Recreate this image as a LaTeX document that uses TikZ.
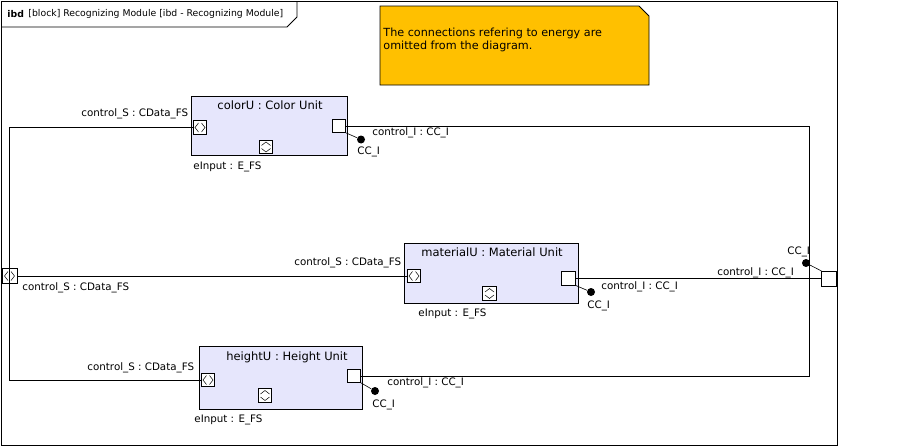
\documentclass[tikz,border=0pt]{standalone}
\usepackage{fontspec}
\setmainfont{DejaVu Sans}
\usetikzlibrary{positioning}
\definecolor{blockfill}{RGB}{230,230,252}
\definecolor{notefill}{RGB}{255,192,0}

\begin{document}
\begin{tikzpicture}[line width=0.9pt,
  lbl/.style={inner sep=0pt, anchor=west, font=\fontsize{10.3}{12}\selectfont},
  ttl/.style={inner sep=0pt, font=\fontsize{11.5}{13}\selectfont},
  block/.style={draw, fill=blockfill, inner sep=0pt, outer sep=0pt, anchor=north west},
  port/.style={draw, fill=white, inner sep=0pt, outer sep=0pt, minimum size=13.5pt},
  flowh/.style={port, path picture={\draw[line width=0.5pt, shift={(path picture bounding box.center)}] (-1.5pt,4.5pt) -- (-5pt,0pt) -- (-1.5pt,-4.5pt) (1.5pt,4.5pt) -- (5pt,0pt) -- (1.5pt,-4.5pt);}},
  flowv/.style={port, path picture={\draw[line width=0.5pt, shift={(path picture bounding box.center)}] (4.5pt,1.5pt) -- (0pt,5pt) -- (-4.5pt,1.5pt) (4.5pt,-1.5pt) -- (0pt,-5pt) -- (-4.5pt,-1.5pt);}},
  ball/.style={circle, fill=black, minimum size=8pt, inner sep=0pt},
]
\useasboundingbox (0,0) rectangle (915pt,-447pt);
\draw (1pt,-1pt) rectangle (837pt,-445pt);
\draw (1pt,-27pt) -- (287pt,-27pt) -- (297pt,-17pt) -- (297pt,-1pt);
\node[inner sep=0pt, anchor=west, font=\fontsize{9.3}{11}\bfseries] (ibd) at (7pt,-14pt) {ibd};
\node[inner sep=0pt, anchor=west, font=\fontsize{9.3}{11}\selectfont] (frameName) at (28pt,-14pt) {[block] Recognizing Module [ibd - Recognizing Module]};

\draw[fill=notefill] (380pt,-6pt) -- (639pt,-6pt) -- (649pt,-16pt) -- (649pt,-85pt) -- (380pt,-85pt) -- cycle;
\node[inner sep=0pt, anchor=north west, align=left, font=\fontsize{11.2}{12.5}\selectfont] (noteText) at (383pt,-28pt) {The connections refering to energy are\\omitted from the diagram.};

\node[block, minimum width=156pt, minimum height=59pt] (colorU) at (191pt,-96pt) {};
\node[block, minimum width=174pt, minimum height=60pt] (materialU) at (404pt,-243pt) {};
\node[block, minimum width=163pt, minimum height=63pt] (heightU) at (199pt,-346pt) {};
\node[ttl] at (270pt,-105pt) {colorU : Color Unit};
\node[ttl] at (492pt,-252pt) {materialU : Material Unit};
\node[ttl] at (287pt,-357pt) {heightU : Height Unit};

\node[flowh] (colorS) at (200pt,-127.5pt) {};
\node[flowv] (colorE) at (266pt,-147pt) {};
\node[port] (colorI) at (339pt,-126pt) {};
\node[flowh] (materialS) at (414pt,-276pt) {};
\node[flowv] (materialE) at (489.5pt,-293.5pt) {};
\node[port] (materialI) at (568.5pt,-278.5pt) {};
\node[flowh] (heightS) at (208pt,-380pt) {};
\node[flowv] (heightE) at (265pt,-395.5pt) {};
\node[port] (heightI) at (354pt,-376pt) {};
\node[flowh, minimum size=15pt] (frameS) at (9.5pt,-276pt) {};
\node[port, minimum size=15pt] (frameI) at (829pt,-278.5pt) {};

\node[ball] (colorB) at (361pt,-139.5pt) {};
\node[ball] (materialB) at (591pt,-292pt) {};
\node[ball] (heightB) at (375pt,-391pt) {};
\node[ball] (frameB) at (806pt,-263pt) {};

\coordinate (lft) at (9.5pt,0pt);
\coordinate (rgt) at (809pt,0pt);
\draw (colorS.west) -- (colorS.west -| lft) -- (heightS.west -| lft) -- (heightS.west);
\draw (frameS.east) -- (materialS.west);
\draw (colorI.east) -- (colorI.east -| rgt) -- (heightI.east -| rgt) -- (heightI.east);
\draw (materialI.east) -- (frameI.west);
\draw[line width=0.6pt] (colorI.south east) -- (colorB);
\draw[line width=0.6pt] (materialI.south east) -- (materialB);
\draw[line width=0.6pt] (heightI.south east) -- (heightB);
\draw[line width=0.6pt] (frameB) -- (frameI.north west);

\node[lbl] at (81pt,-114pt) {control\_S : CData\_FS};
\node[lbl] at (193pt,-167pt) {eInput : E\_FS};
\node[lbl] at (372pt,-133pt) {control\_I : CC\_I};
\node[lbl] at (357pt,-152pt) {CC\_I};
\node[lbl] at (294pt,-263pt) {control\_S : CData\_FS};
\node[lbl] at (418pt,-314pt) {eInput : E\_FS};
\node[lbl] at (601pt,-287pt) {control\_I : CC\_I};
\node[lbl] at (587pt,-306pt) {CC\_I};
\node[lbl] at (87pt,-368pt) {control\_S : CData\_FS};
\node[lbl] at (194pt,-420pt) {eInput : E\_FS};
\node[lbl] at (387pt,-383pt) {control\_I : CC\_I};
\node[lbl] at (372pt,-405pt) {CC\_I};
\node[lbl] at (22pt,-288pt) {control\_S : CData\_FS};
\node[lbl] at (787pt,-252pt) {CC\_I};
\node[lbl] at (717pt,-273pt) {control\_I : CC\_I};
\end{tikzpicture}
\end{document}
